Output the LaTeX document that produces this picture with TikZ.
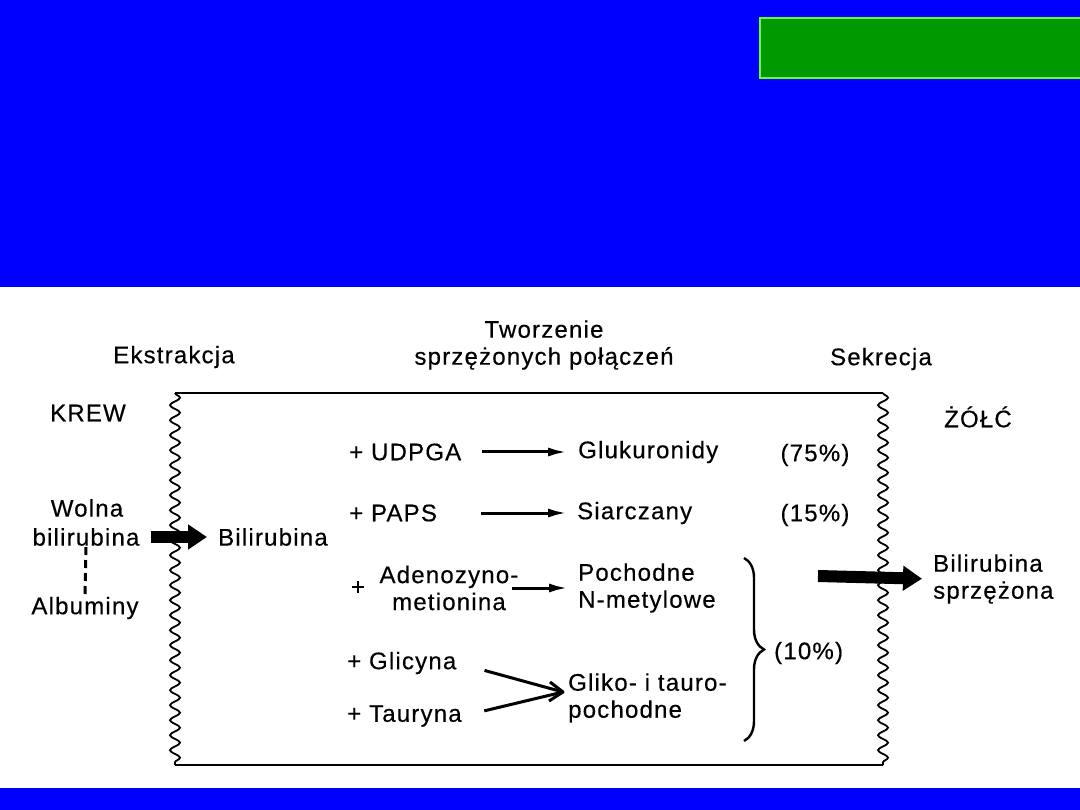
\documentclass[tikz,border=0pt]{standalone}
\usepackage{fontspec}
\setmainfont[LetterSpace=5,FakeBold=0.4]{Liberation Sans}
\usetikzlibrary{arrows.meta,positioning,decorations.pathmorphing,decorations.pathreplacing}

\definecolor{slideblue}{RGB}{0,0,255}
\definecolor{slidegreen}{RGB}{0,153,0}
\definecolor{edgegreen}{RGB}{102,255,51}

\begin{document}
\begin{tikzpicture}[
    x = 1pt, y = -1pt, % pixel like coordinates
    > = {Latex[length=19pt,width=9pt]}, % arrow head style
    every node/.style = {font=\fontsize{24}{27}\selectfont, inner sep=1pt},
    txt/.style = {anchor=west, align=left},
    rxn/.style = {->, line width=3pt},
    fatarrow/.style = {-{Triangle[length=19pt,width=24pt]}, line width=12pt},
    wavy/.style = {line width=1.8pt, decorate,
      decoration={snake, amplitude=5pt, segment length=15pt}},
    frame/.style = {line width=2.5pt}
    ]

    \useasboundingbox (0,0) rectangle (1080,810);
    % slide background
    \fill[slideblue] (0,0) rectangle (1080,287);
    \fill[slideblue] (0,788) rectangle (1080,810);
    \filldraw[fill=slidegreen, draw=edgegreen, line width=2pt] (760,18) rectangle (1085,78);

    % frame of the liver cell
    \coordinate (tl) at (175,393);
    \coordinate (tr) at (883,393);
    \coordinate (bl) at (175,765);
    \coordinate (br) at (883,765);
    \draw[frame] (tl) -- (tr);
    \draw[frame] (bl) -- (br);
    \draw[wavy] (tl) -- (bl);
    \draw[wavy] (tr) -- (br);

    % headings
    \node (ekstr) at (174,357) {Ekstrakcja};
    \node[align=center] (tworz) at (544,345) {Tworzenie\\sprzężonych połączeń};
    \node (sekr) at (881,359) {Sekrecja};
    \node (krew) at (88,413) {KREW};
    \node (zolc) at (978,417) {ŻÓŁĆ};

    % blood side
    \node (wolna) at (87,508) {Wolna};
    \node (wbil) at (86,537) {bilirubina};
    \node (album) at (85,608) {Albuminy};
    \node[txt] (bil) at (217,537) {Bilirubina};
    \draw[line width=3pt, dash pattern=on 8pt off 5pt] (wbil.south) -- (album.north);
    \draw[fatarrow, shorten <=10pt, shorten >=10pt] (wbil.east) -- (bil.west);

    % conjugation reactions
    \node[txt] (udpga) at (348,452) {+ UDPGA};
    \node[txt] (gluk) at (577,452) {Glukuronidy};
    \node (p75) at (815,455) {(75\%)};
    \node[txt] (paps) at (348,513) {+ PAPS};
    \node[txt] (siar) at (576,513) {Siarczany};
    \node (p15) at (815,515) {(15\%)};
    \node (plus3) at (358,588) {+};
    \node[align=center] (adeno) at (449,588) {Adenozyno-\\metionina};
    \node[txt] (poch) at (577,588) {Pochodne\\N-metylowe};
    \node[txt] (glic) at (346,663) {+ Glicyna};
    \node[txt] (taur) at (346,716) {+ Tauryna};
    \node[txt] (gliko) at (567,698) {Gliko- i tauro-\\pochodne};
    \node[txt] (p10) at (773,653) {(10\%)};
    \coordinate (gt) at (563,692);

    \draw[rxn, shorten <=20pt, shorten >=10pt] (udpga) -- (gluk);
    \draw[rxn, shorten <=43pt, shorten >=9pt] (paps) -- (siar);
    \draw[rxn, shorten <=-8pt, shorten >=9pt] (adeno) -- (poch);
    \draw[line width=3pt, shorten <=28pt] (glic.east) -- (gt);
    \draw[line width=3pt, shorten <=22pt] (taur.east) -- (gt);
    \draw[line width=3pt, line join=round] (gt) ++(-13,-10) -- (gt) -- ++(-14,9);

    % brace over the minor pathways
    \coordinate (btop) at (744,558);
    \coordinate (bbot) at (744,741);
    \draw[line width=2.4pt, decorate, decoration={brace, amplitude=20pt}] (btop) -- (bbot);

    % secretion into bile
    \node[txt] (sprz) at (932,579) {Bilirubina\\sprzężona};
    \coordinate (sout) at (818,576);
    \draw[fatarrow, shorten >=10pt] (sout) -- (sprz.west);
\end{tikzpicture}
\end{document}
